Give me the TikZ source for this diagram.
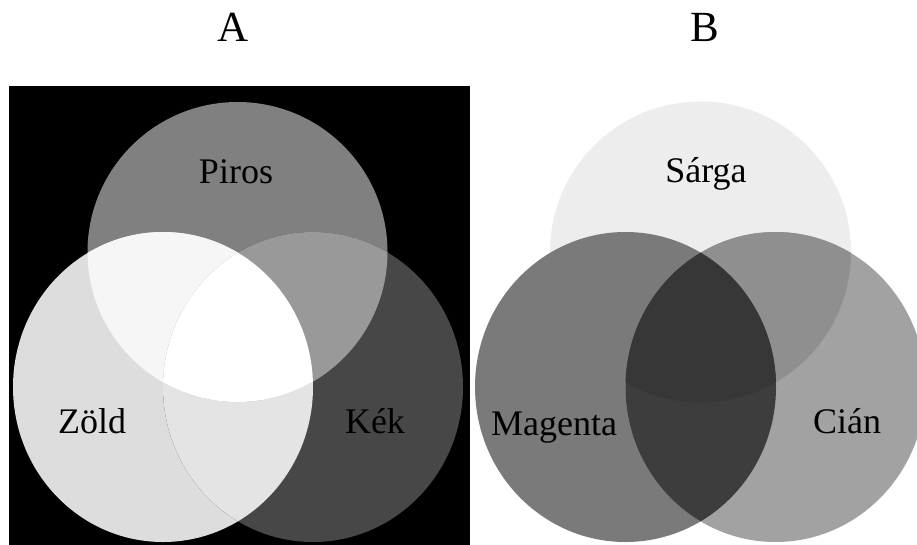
\documentclass[tikz,border=0pt]{standalone}
\usepackage{fontspec}
\setmainfont{Liberation Serif}
\definecolor{cP}{gray}{0.50}
\definecolor{cZ}{gray}{0.865}
\definecolor{cK}{gray}{0.28}
\definecolor{cPZ}{gray}{0.965}
\definecolor{cPK}{gray}{0.60}
\definecolor{cZK}{gray}{0.895}
\definecolor{cS}{gray}{0.93}
\definecolor{cM}{gray}{0.48}
\definecolor{cC}{gray}{0.635}
\definecolor{cSC}{gray}{0.56}
\definecolor{cMC}{gray}{0.24}
\definecolor{cSMC}{gray}{0.215}
\tikzset{
  lbl/.style={font=\fontsize{36}{40}\selectfont, text=black, inner sep=0pt, anchor=base},
  ttl/.style={font=\fontsize{43}{48}\selectfont, text=black, inner sep=0pt, anchor=base}
}
\def\pP{(237.5,252) circle[radius=150pt]}
\def\pZ{(163,387) ellipse[x radius=150pt, y radius=155pt]}
\def\pK{(313,387) ellipse[x radius=150pt, y radius=155pt]}
\def\pS{(700.5,252) circle[radius=150.5pt]}
\def\pM{(625.5,387) ellipse[x radius=150.5pt, y radius=155pt]}
\def\pC{(775.5,387) ellipse[x radius=150pt, y radius=155pt]}
\begin{document}
\begin{tikzpicture}[x=1pt,y=-1pt]
\useasboundingbox (0,0) rectangle (917,544);
\fill[white] (0,0) rectangle (917,544);
\clip (0,0) rectangle (917,544);
% Panel A
\fill[black] (9,86) rectangle (470,545);
\fill[cP] \pP;
\fill[cZ] \pZ;
\fill[cK] \pK;
\begin{scope}
  \clip \pZ;
  \fill[cZK] \pK;
\end{scope}
\begin{scope}
  \clip \pP;
  \fill[cPZ] \pZ;
  \fill[cPK] \pK;
  \clip \pZ;
  \fill[white] \pK;
\end{scope}
% Panel B
\fill[cS] \pS;
\fill[cM] \pM;
\fill[cC] \pC;
\begin{scope}
  \clip \pS;
  \fill[cSC] \pC;
\end{scope}
\begin{scope}
  \clip \pM;
  \fill[cMC] \pC;
  \clip \pS;
  \fill[cSMC] \pC;
\end{scope}
% Titles
\node[ttl] (tA) at (233,41) {A};
\node[ttl] (tB) at (705,41) {B};
% Labels
\node[lbl] (piros) at (236,183) {Piros};
\node[lbl] (zold) at (92,433) {Zöld};
\node[lbl] (kek) at (375,433) {Kék};
\node[lbl] (sarga) at (706,182) {Sárga};
\node[lbl] (magenta) at (554,435) {Magenta};
\node[lbl] (cian) at (847,433) {Cián};
\end{tikzpicture}
\end{document}
